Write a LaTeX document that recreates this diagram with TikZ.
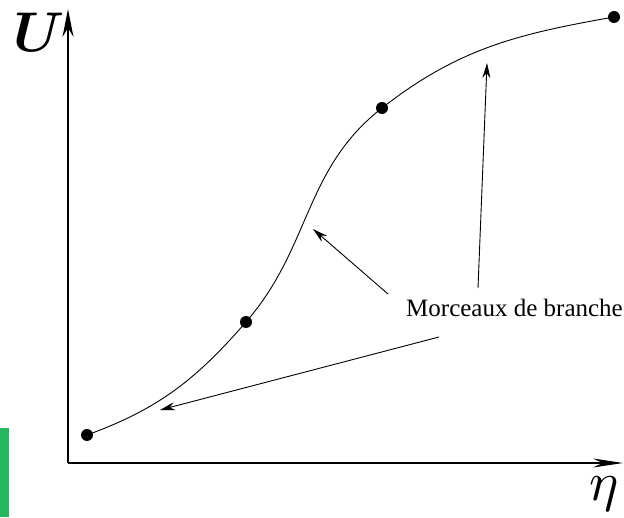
\documentclass[tikz,border=0pt]{standalone}
\usepackage{amsmath,amssymb}
\usepackage{fontspec}
\setmainfont{Liberation Serif}
\usetikzlibrary{arrows.meta}
\definecolor{bargreen}{RGB}{39,182,96}

\begin{document}
\begin{tikzpicture}[x=1pt,y=1pt,>={Stealth[length=15pt,width=8pt]}]
        \useasboundingbox (0,0) rectangle (624,517);
        \fill[bargreen] (0,0) rectangle (9,89);

        % axes
        \coordinate (o) at (68,54);
        \coordinate (ytop) at (68,508);
        \coordinate (xend) at (623,54);
        \draw[line width=1.1pt,-{Stealth[length=28pt,width=11pt]}] (o) -- (ytop);
        \draw[line width=1.1pt,-{Stealth[length=30pt,width=9pt]}] (o) -- (xend);
        \node[anchor=base,scale=5.6] (lu) at (39,465) {$\boldsymbol{U}$};
        \node[anchor=base,scale=5.5] (leta) at (604,16) {$\eta$};

        % branch points
        \coordinate (p0) at (87,82);
        \coordinate (p1) at (246,195);
        \coordinate (p2) at (382,409);
        \coordinate (p3) at (614,500);

        \draw[line width=0.9pt] (p0) to[out=20,in=229] (p1)
                to[out=49,in=218] (p2)
                to[out=38,in=190] (p3);

        \fill (p0) circle (6);
        \fill (p1) circle (6);
        \fill (p2) circle (6);
        \fill (p3) circle (6);

        % label and arrows
        \node[anchor=base] (lbl) at (514.5,200) {\fontsize{25}{30}\selectfont Morceaux de branche};
        \coordinate (t1) at (388,223);
        \coordinate (h1) at (313,288);
        \coordinate (t2) at (478,229);
        \coordinate (h2) at (487,454);
        \coordinate (t3) at (439,180);
        \coordinate (h3) at (160,107);
        \draw[->,line width=0.9pt] (t1) -- (h1);
        \draw[->,line width=0.9pt] (t2) -- (h2);
        \draw[->,line width=0.9pt] (t3) -- (h3);
\end{tikzpicture}
\end{document}
